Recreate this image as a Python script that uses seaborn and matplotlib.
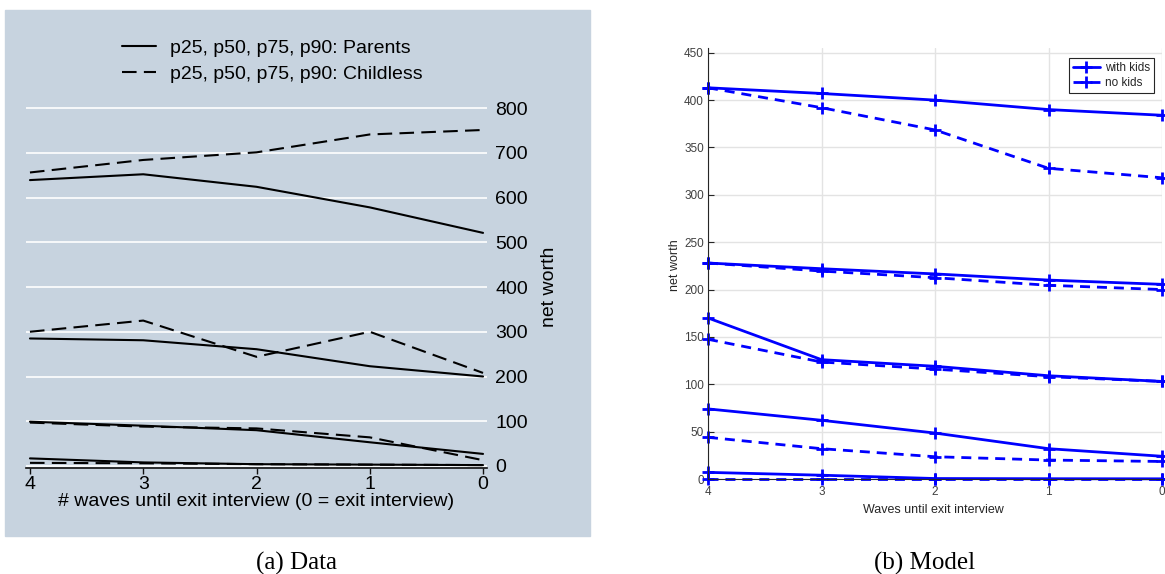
import matplotlib
matplotlib.use("Agg")
import matplotlib.pyplot as plt
from matplotlib.lines import Line2D
from matplotlib.patches import Rectangle
import numpy as np
import pandas as pd
import seaborn as sns

# waves until exit interview (x axis for both panels)
waves = [4, 3, 2, 1, 0]

# (a) Data: net worth percentiles, parents vs childless
parents_p25 = [17, 8, 4, 3, 2]
parents_p50 = [99, 90, 80, 53, 27]
parents_p75 = [285, 281, 261, 223, 200]
parents_p90 = [639, 652, 624, 578, 521]
childless_p25 = [7, 6, 4, 3, 2]
childless_p50 = [97, 88, 84, 64, 13]
childless_p75 = [300, 325, 244, 300, 208]
childless_p90 = [656, 684, 701, 741, 751]

# (b) Model: net worth percentiles, with kids vs no kids
kids_p10 = [7, 4, 0.5, 0.3, 0.2]
kids_p25 = [74, 62, 48.5, 32, 24]
kids_p50 = [170, 126, 119, 109, 103]
kids_p75 = [228, 222, 216.5, 210, 205.5]
kids_p90 = [413, 407, 400, 390, 384]
nokids_p10 = [0, 0, 0, 0, 0]
nokids_p25 = [44, 32, 23.5, 20, 18.5]
nokids_p50 = [147.5, 123.5, 116, 108, 103]
nokids_p75 = [228, 219.5, 212.5, 204.5, 200]
nokids_p90 = [413, 392, 368.5, 328, 318]


def long_frame(series):
    rows = []
    for (grp, lvl), vals in series.items():
        for w, v in zip(waves, vals):
            rows.append({"wave": w, "value": v, "group": grp, "pct": grp + lvl})
    return pd.DataFrame(rows)


df_data = long_frame({
    ("Parents", "p25"): parents_p25, ("Parents", "p50"): parents_p50,
    ("Parents", "p75"): parents_p75, ("Parents", "p90"): parents_p90,
    ("Childless", "p25"): childless_p25, ("Childless", "p50"): childless_p50,
    ("Childless", "p75"): childless_p75, ("Childless", "p90"): childless_p90,
})
df_model = long_frame({
    ("with kids", "p10"): kids_p10, ("with kids", "p25"): kids_p25,
    ("with kids", "p50"): kids_p50, ("with kids", "p75"): kids_p75,
    ("with kids", "p90"): kids_p90,
    ("no kids", "p10"): nokids_p10, ("no kids", "p25"): nokids_p25,
    ("no kids", "p50"): nokids_p50, ("no kids", "p75"): nokids_p75,
    ("no kids", "p90"): nokids_p90,
})

sns.set_style("ticks")
plt.rcParams["font.family"] = ["Liberation Sans", "DejaVu Sans"]

W, H = 1165, 574
fig = plt.figure(figsize=(W / 100, H / 100), dpi=100)


def fx(x):
    return x / W


def fy(y):
    return 1 - y / H


# ---- left panel: stata-like look
bg = "#c7d3df"
fig.patches.append(Rectangle((fx(5), fy(536)), (590 - 5) / W, (536 - 10) / H,
                             transform=fig.transFigure, color=bg, zorder=-5))

axL = fig.add_axes([fx(26), fy(468), (487 - 26) / W, (468 - 100) / H])
axL.patch.set_visible(False)
sns.lineplot(data=df_data, x="wave", y="value", style="group", units="pct",
             estimator=None, sort=False, color="black", lw=1.5,
             dashes={"Parents": "", "Childless": (7, 3.5)},
             legend=False, ax=axL)
axL.set_xlim(4.035, -0.035)
axL.set_ylim(-4.5, 818)
axL.set_xticks(waves)
axL.set_yticks(range(0, 801, 100))
axL.yaxis.tick_right()
axL.tick_params(axis="y", length=0, pad=6, labelsize=14, labelcolor="black")
axL.tick_params(axis="x", length=4, width=1, direction="out", pad=2, labelsize=14,
                color="#111111", labelcolor="black")
axL.grid(axis="y", color="white", lw=1.2)
axL.set_axisbelow(True)
for s in ["top", "left", "right"]:
    axL.spines[s].set_visible(False)
axL.spines["bottom"].set_color("#111111")
axL.spines["bottom"].set_linewidth(1.2)
axL.set_xlabel("")
axL.set_ylabel("")
fig.text(fx(256), fy(502), "# waves until exit interview (0 = exit interview)",
         ha="center", va="center", fontsize=14, color="black")
fig.text(fx(549), fy(287), "net worth", ha="center", va="center",
         rotation=90, fontsize=14, color="black")

legL = [Line2D([], [], color="black", lw=1.5),
        Line2D([], [], color="black", lw=1.5, ls=(0, (7, 3.5)))]
legA = fig.legend(legL, ["p25, p50, p75, p90: Parents", "p25, p50, p75, p90: Childless"],
                  loc="upper left", bbox_to_anchor=(fx(122), fy(39)), frameon=False,
                  fontsize=14, handlelength=1.75, handletextpad=0.7, labelspacing=0.45,
                  borderpad=0, borderaxespad=0)
for t in legA.get_texts():
    t.set_color("black")

# ---- right panel: matlab-like look
axR = fig.add_axes([fx(708), fy(479), (1162 - 708) / W, (479 - 48) / H])
sns.lineplot(data=df_model, x="wave", y="value", style="group", units="pct",
             estimator=None, sort=False, color="#0000ff", lw=2,
             dashes={"with kids": "", "no kids": (3.6, 2.5)},
             markers={"with kids": "+", "no kids": "+"},
             markersize=9, markeredgewidth=2, markeredgecolor="#0000ff",
             clip_on=False, legend=False, ax=axR)
axR.set_xlim(4, 0)
axR.set_ylim(0, 455)
axR.set_xticks(waves)
axR.set_yticks(range(0, 451, 50))
axR.grid(True, color="#e3e3e3", lw=1)
axR.set_axisbelow(True)
axR.tick_params(axis="both", direction="in", length=4, width=0.8,
                colors="#262626", labelcolor="#404040", labelsize=8.5)
axR.tick_params(axis="x", pad=5)
axR.tick_params(axis="y", pad=3)
for s in ["top", "right"]:
    axR.spines[s].set_visible(False)
for s in ["left", "bottom"]:
    axR.spines[s].set_color("#262626")
    axR.spines[s].set_linewidth(0.8)
axR.set_xlabel("")
axR.set_ylabel("")
fig.text(fx(933), fy(510), "Waves until exit interview", ha="center", va="center",
         fontsize=9, color="#262626")
fig.text(fx(675), fy(265), "net worth", ha="center", va="center", rotation=90,
         fontsize=9, color="#262626")

legR = [Line2D([], [], color="#0000ff", lw=2, marker="+", ms=9, mew=2),
        Line2D([], [], color="#0000ff", lw=2, ls=(0, (3.6, 2.5)), marker="+", ms=9, mew=2)]
lg = axR.legend(legR, ["with kids", "no kids"], loc="upper right",
                bbox_to_anchor=(fx(1154), fy(58)), bbox_transform=fig.transFigure,
                fancybox=False, edgecolor="#262626", framealpha=1, fontsize=8.5,
                handlelength=2.3, handletextpad=0.4, labelspacing=0.25,
                borderpad=0.35, borderaxespad=0)
lg.get_frame().set_linewidth(0.8)

# captions
fig.text(fx(297), fy(563), "(a) Data", ha="center", va="center", fontsize=18,
         color="black", family=["Liberation Serif", "DejaVu Serif"])
fig.text(fx(925), fy(563), "(b) Model", ha="center", va="center", fontsize=18,
         color="black", family=["Liberation Serif", "DejaVu Serif"])

fig.savefig("out.png", dpi=100)
